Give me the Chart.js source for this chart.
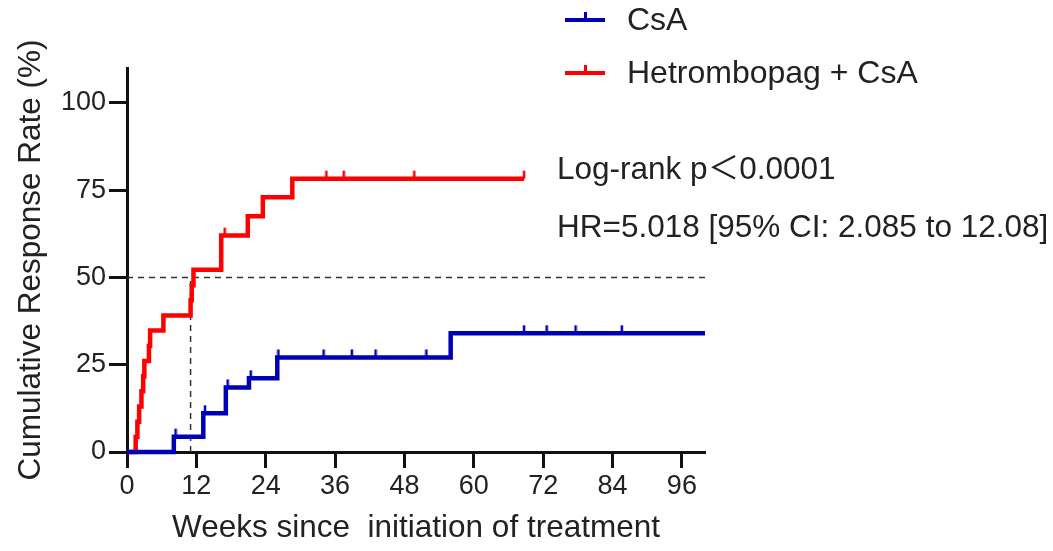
<!DOCTYPE html>
<html>
<head>
<meta charset="utf-8">
<script src="https://cdn.jsdelivr.net/npm/chart.js@4.4.0/dist/chart.umd.min.js"></script>
<style>
  html, body { margin: 0; padding: 0; background: #fff; }
  #wrap { position: relative; width: 1053px; height: 551px; }
  #legend { position: absolute; left: 565px; top: 0; font-family: 'Liberation Sans', Arial, sans-serif; font-size: 32px; color: #222; }
  .row { position: absolute; left: 0; white-space: nowrap; height: 38px; line-height: 38px; }
  .swatch { position: absolute; left: 0; top: 18px; width: 40px; height: 4px; }
  .swatch span { position: absolute; left: 19px; top: -6px; width: 3px; height: 6px; }
  .label { position: absolute; left: 62px; top: 0; }
</style>
</head>
<body>
<div id="wrap">
  <canvas id="km" width="1053" height="551"></canvas>
  <div id="legend"></div>
</div>
<script>
// === KM curves: cumulative response rate (%) vs weeks ===
var seriesNames = ['CsA', 'Hetrombopag + CsA'];
var seriesColors = ['#0000b8', '#ff0000'];

var weeksCsA = [0, 8.1, 13.2, 17.1, 21.1, 26.0, 56.0, 100];
var rateCsA  = [0, 4.4, 11.1, 18.5, 21.1, 27.1, 34.0, 34.0];
var censorWeeksCsA = [8.4, 13.5, 17.4, 21.4, 26.2, 34.0, 38.9, 43.0, 51.8, 68.7, 72.6, 77.6, 85.6];
var censorRateCsA  = [4.4, 11.1, 18.5, 21.1, 27.1, 27.1, 27.1, 27.1, 27.1, 34.0, 34.0, 34.0, 34.0];

var weeksHet = [0, 1.5, 1.8, 2.1, 2.5, 2.8, 3.0, 3.8, 4.0, 6.3, 11.0, 11.2, 11.5, 16.3, 20.9, 23.5, 28.6, 68.7];
var rateHet  = [0, 4.3, 8.7, 13.0, 17.4, 21.7, 26.1, 30.4, 34.8, 39.1, 43.5, 47.8, 52.2, 62.0, 67.5, 73.0, 78.3, 78.3];
var censorWeeksHet = [16.9, 34.5, 37.5, 49.7, 68.7];
var censorRateHet  = [62.0, 78.3, 78.3, 78.3, 78.3];

var medianWeek = 11.0;
var halfRate = 50;

var xTicksWeeks = [0, 12, 24, 36, 48, 60, 72, 84, 96];
var yTicksRate = [0, 25, 50, 75, 100];

var noteLines = ['Log-rank p\uFF1C0.0001', 'HR=5.018 [95% CI: 2.085 to 12.08]'];

var FONT = "'Liberation Sans', Arial, 'Noto Sans CJK SC', sans-serif";
var TEXT = '#222';

function pairs(xs, ys) {
  return xs.map(function(x, i) { return { x: x, y: ys[i] }; });
}

// small vertical tick drawn above the point (censor mark)
function censorMark(color) {
  var c = document.createElement('canvas');
  c.width = 4; c.height = 20;
  var g = c.getContext('2d');
  g.fillStyle = color;
  g.fillRect(0.75, 2, 2.5, 8);
  return c;
}

// legend
var legendEl = document.getElementById('legend');
var legendTops = [0, 53];
seriesNames.forEach(function(name, i) {
  legendEl.innerHTML +=
    '<div class="row" style="top:' + legendTops[i] + 'px">' +
      '<div class="swatch" style="background:' + seriesColors[i] + '"><span style="background:' + seriesColors[i] + '"></span></div>' +
      '<div class="label">' + name + '</div>' +
    '</div>';
});

var notesPlugin = {
  id: 'notes',
  afterDatasetsDraw: function(chart) {
    var ctx = chart.ctx;
    var xs = chart.scales.x, ys = chart.scales.y;
    var at = [[74.4, 80.8], [74.4, 64.2]];
    ctx.save();
    ctx.font = '31.5px ' + FONT;
    ctx.fillStyle = TEXT;
    ctx.textBaseline = 'middle';
    ctx.textAlign = 'left';
    noteLines.forEach(function(t, i) {
      ctx.fillText(t, xs.getPixelForValue(at[i][0]), ys.getPixelForValue(at[i][1]));
    });
    ctx.restore();
  }
};

var dashStyle = { borderColor: '#333', borderWidth: 1.5, borderDash: [6, 5], pointRadius: 0, fill: false, clip: false };

new Chart(document.getElementById('km'), {
  type: 'line',
  data: {
    datasets: [
      { label: seriesNames[0], data: pairs(weeksCsA, rateCsA), stepped: true, borderColor: seriesColors[0], borderWidth: 4.5, pointRadius: 0, fill: false, clip: false, borderCapStyle: 'butt' },
      { label: seriesNames[0] + ' censored', data: pairs(censorWeeksCsA, censorRateCsA), showLine: false, pointStyle: censorMark(seriesColors[0]), pointRadius: 4, clip: false },
      { label: seriesNames[1], data: pairs(weeksHet, rateHet), stepped: true, borderColor: seriesColors[1], borderWidth: 4.5, pointRadius: 0, fill: false, clip: false },
      { label: seriesNames[1] + ' censored', data: pairs(censorWeeksHet, censorRateHet), showLine: false, pointStyle: censorMark(seriesColors[1]), pointRadius: 4, clip: false },
      Object.assign({ label: 'median h', data: [{ x: 0, y: halfRate }, { x: 100, y: halfRate }] }, dashStyle),
      Object.assign({ label: 'median v', data: [{ x: medianWeek, y: 0 }, { x: medianWeek, y: halfRate }] }, dashStyle)
    ]
  },
  options: {
    responsive: false,
    animation: false,
    layout: { padding: { top: 68, right: 348, left: 0, bottom: 0 } },
    plugins: { legend: { display: false }, tooltip: { enabled: false } },
    scales: {
      x: {
        type: 'linear',
        min: 0, max: 100,
        afterFit: function(s) { s.height = 99; },
        afterBuildTicks: function(s) { s.ticks = xTicksWeeks.map(function(v) { return { value: v }; }); },
        border: { display: true, color: '#111', width: 3 },
        grid: { drawOnChartArea: false, drawTicks: true, tickLength: 16, tickWidth: 3, tickColor: '#111' },
        ticks: { color: TEXT, font: { family: FONT, size: 27 }, padding: 2, maxRotation: 0 },
        title: { display: true, text: 'Weeks since  initiation of treatment', color: TEXT, font: { family: FONT, size: 31.5 }, padding: { top: 0, bottom: 4 } }
      },
      y: {
        type: 'linear',
        min: 0, max: 110,
        afterFit: function(s) { s.width = 127; },
        afterBuildTicks: function(s) { s.ticks = yTicksRate.map(function(v) { return { value: v }; }); },
        border: { display: true, color: '#111', width: 3 },
        grid: { drawOnChartArea: false, drawTicks: true, tickLength: 18, tickWidth: 3, tickColor: '#111' },
        ticks: { color: TEXT, font: { family: FONT, size: 27 }, padding: 3 },
        title: { display: true, text: 'Cumulative Response Rate (%)', color: TEXT, font: { family: FONT, size: 31.5 }, padding: { top: 12, bottom: 0 } }
      }
    }
  },
  plugins: [notesPlugin]
});
</script>
</body>
</html>
